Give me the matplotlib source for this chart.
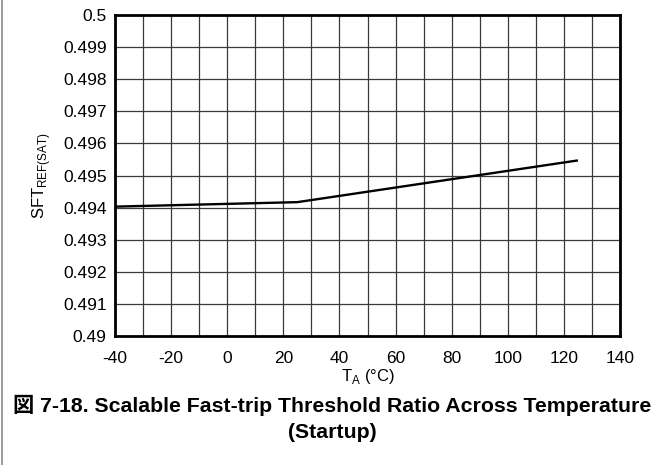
import matplotlib
matplotlib.use("Agg")
import matplotlib.pyplot as plt
from matplotlib.lines import Line2D

plt.rcParams['font.family'] = ['Liberation Sans', 'Noto Sans CJK JP', 'DejaVu Sans']
plt.rcParams['axes.unicode_minus'] = False

# Measured ratio vs ambient temperature
temperature_c = [-40, 25, 125]
sft_ratio = [0.49403, 0.49417, 0.49547]

x_ticks = [-40, -20, 0, 20, 40, 60, 80, 100, 120, 140]
y_ticks = [0.49, 0.491, 0.492, 0.493, 0.494, 0.495, 0.496, 0.497, 0.498, 0.499, 0.5]
y_tick_labels = ["0.49", "0.491", "0.492", "0.493", "0.494", "0.495",
                 "0.496", "0.497", "0.498", "0.499", "0.5"]

W, H = 663, 465
fig = plt.figure(figsize=(W / 100, H / 100), dpi=100)
ax = fig.add_axes([115 / W, 1 - 336 / H, (620 - 115) / W, (336 - 15) / H])

ax.plot(temperature_c, sft_ratio, color="black", lw=1.7, solid_capstyle="butt")

ax.set_xlim(-40, 140)
ax.set_ylim(0.49, 0.5)
ax.set_xticks(x_ticks)
ax.set_xticks(range(-30, 140, 20), minor=True)
ax.set_yticks(y_ticks)
ax.set_yticklabels(y_tick_labels)
ax.tick_params(which="both", length=0, labelsize=12.5, colors="black")
ax.tick_params(axis="x", pad=10.5)
ax.tick_params(axis="y", pad=6)
ax.grid(which="both", color="#3a3a3a", lw=0.9)
ax.set_axisbelow(True)
for s in ax.spines.values():
    s.set_linewidth(2.0)
    s.set_color("black")

ax.set_xlabel("T$_{\\mathregular{A}}$ (°C)", fontsize=12, labelpad=1)
ax.set_ylabel("SFT$_{\\mathregular{REF(SAT)}}$", fontsize=12, labelpad=7)

fig.text(332 / W, 1 - 405 / H, "図 7-18. Scalable Fast-trip Threshold Ratio Across Temperature",
         ha="center", va="center", fontsize=15.3, fontweight="bold")
fig.text(332 / W, 1 - 432 / H, "(Startup)",
         ha="center", va="center", fontsize=15.3, fontweight="bold")

# left page rule
fig.add_artist(Line2D([1.5 / W, 1.5 / W], [0, 1], transform=fig.transFigure,
                      color="#8a8a8a", lw=1.2))

fig.savefig("out.png", dpi=100)
